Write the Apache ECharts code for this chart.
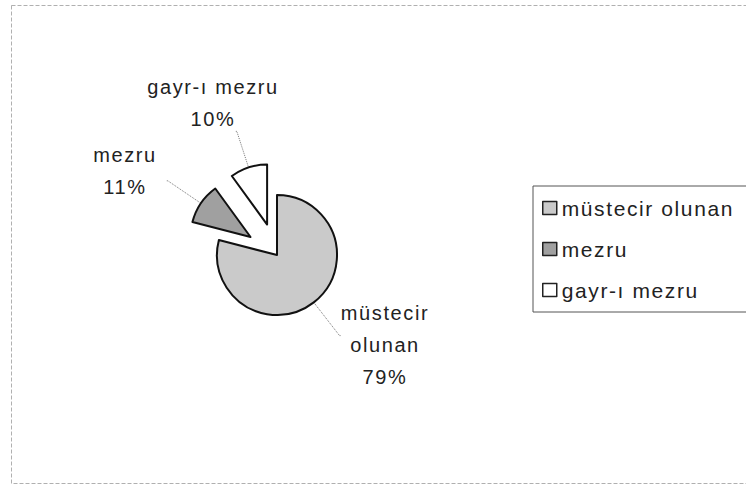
<!DOCTYPE html>
<html>
<head>
<meta charset="utf-8">
<script src="https://cdn.jsdelivr.net/npm/echarts@6/dist/echarts.min.js"></script>
<style>
  html, body { margin: 0; padding: 0; background: #fff; }
  #chart { width: 746px; height: 485px; }
  #chart svg text { letter-spacing: 1.6px; }
</style>
</head>
<body>
<div id="chart"></div>
<script>
// slice names and shares (percent)
var categories = ['müstecir olunan', 'mezru', 'gayr-ı mezru'];
var shares = [79, 11, 10];
// label text per slice (line breaks as in the original)
var labelNames = ['müstecir\nolunan', 'mezru', 'gayr-ı mezru'];
var sliceColors = ['#cacaca', '#a0a0a0', '#ffffff'];
var exploded = [false, true, true];

// where each label block sits (center of text)
var labelSpots = [[385, 345], [125, 171], [213, 103]];
var leaderLen = [42, 40, 38];

var chart = echarts.init(document.getElementById('chart'), null, { renderer: 'svg' });

var pieCenter = [277, 255];
var pieRadius = 60;

// visible slices, exploded ones pulled out; labels only carry the leader lines
var sliceData = categories.map(function (c, i) {
    return {
        name: c,
        value: shares[i],
        selected: exploded[i],
        itemStyle: { color: sliceColors[i] },
        labelLine: { length: leaderLen[i], length2: 1 }
    };
});

// same pie, invisible, only used to place the label texts
var textData = categories.map(function (c, i) {
    return { name: c, value: shares[i] };
});

var option = {
    backgroundColor: '#fff',
    animation: false,
    graphic: [{
        type: 'rect',
        shape: { x: 11.5, y: 5.5, width: 760, height: 478 },
        style: { fill: 'none', stroke: '#b0b0b0', lineWidth: 1, lineDash: [4, 2] },
        silent: true
    }],
    legend: {
        orient: 'vertical',
        left: 533,
        top: 186,
        padding: [11, 60, 11, 9],
        borderColor: '#555',
        borderWidth: 1,
        icon: 'rect',
        itemWidth: 14,
        itemHeight: 13,
        itemGap: 19,
        selectedMode: false,
        itemStyle: { borderColor: '#222', borderWidth: 1.5 },
        textStyle: {
            fontFamily: 'Liberation Sans',
            fontSize: 21,
            lineHeight: 22,
            color: '#222'
        },
        data: categories
    },
    series: [{
        name: 'slices',
        type: 'pie',
        center: pieCenter,
        radius: pieRadius,
        startAngle: 90,
        clockwise: true,
        selectedMode: 'multiple',
        selectedOffset: 32,
        avoidLabelOverlap: false,
        itemStyle: { borderColor: '#111', borderWidth: 2 },
        emphasis: { disabled: true },
        label: {
            show: true,
            fontSize: 1,
            formatter: ' '
        },
        labelLine: {
            show: true,
            lineStyle: { color: '#777', width: 1, type: 'dotted' }
        },
        data: sliceData
    }, {
        name: 'labels',
        type: 'pie',
        center: pieCenter,
        radius: pieRadius,
        startAngle: 90,
        clockwise: true,
        silent: true,
        z: 3,
        avoidLabelOverlap: false,
        itemStyle: { color: 'rgba(0,0,0,0)', borderWidth: 0 },
        label: {
            show: true,
            fontFamily: 'Liberation Sans',
            fontSize: 20,
            lineHeight: 32,
            color: '#222',
            align: 'center',
            formatter: function (p) {
                return labelNames[p.dataIndex] + '\n' + p.value + '%';
            }
        },
        labelLine: { show: false },
        labelLayout: function (params) {
            var s = labelSpots[params.dataIndex];
            return { x: s[0], y: s[1], align: 'center', verticalAlign: 'middle' };
        },
        data: textData
    }]
};

chart.setOption(option);
</script>
</body>
</html>
